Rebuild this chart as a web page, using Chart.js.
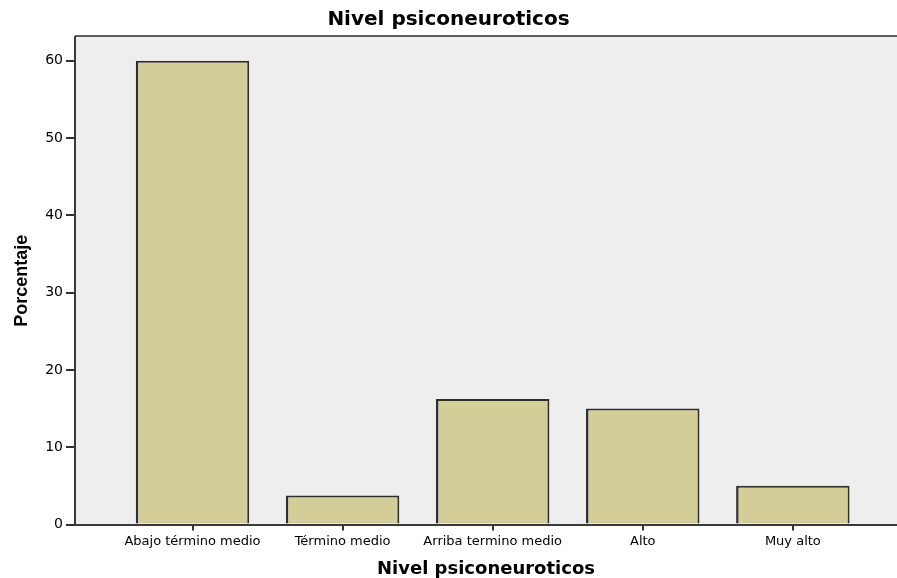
<!DOCTYPE html>
<html>
<head>
<meta charset="utf-8">
<script src="https://cdn.jsdelivr.net/npm/chart.js@4"></script>
<style>
  html, body { margin: 0; padding: 0; background: #fff; }
  #wrap { width: 897px; height: 578px; }
</style>
</head>
<body>
<div id="wrap"><canvas id="myViz"></canvas></div>
<script>
// Datos del gráfico
const categories = ['Abajo término medio', 'Término medio', 'Arriba termino medio', 'Alto', 'Muy alto'];
const percentages = [60, 3.75, 16.25, 15, 5];
const yTicks = [0, 10, 20, 30, 40, 50, 60];
const chartTitle = 'Nivel psiconeuroticos';
const xTitle = 'Nivel psiconeuroticos';
const yTitle = 'Porcentaje';

// Fondo gris del área del gráfico y línea superior
const plotBackground = {
  id: 'plotBackground',
  beforeDraw(chart) {
    const { ctx, chartArea } = chart;
    ctx.save();
    ctx.fillStyle = '#eeeeee';
    ctx.fillRect(chartArea.left, chartArea.top, chartArea.right - chartArea.left, chartArea.bottom - chartArea.top);
    ctx.strokeStyle = '#5c5c5c';
    ctx.lineWidth = 2;
    ctx.beginPath();
    ctx.moveTo(chartArea.left, chartArea.top - 1);
    ctx.lineTo(chartArea.right, chartArea.top - 1);
    ctx.stroke();
    ctx.restore();
  }
};

const ctx = document.getElementById('myViz').getContext('2d');
new Chart(ctx, {
  type: 'bar',
  data: {
    datasets: [{
      data: categories.map((c, i) => ({ x: i, y: percentages[i] })),
      backgroundColor: '#d3ce98',
      borderColor: '#2e2e2e',
      borderWidth: { top: 2, right: 2, bottom: 0, left: 2.5 },
      borderSkipped: false,
      categoryPercentage: 1,
      barPercentage: 0.756
    }]
  },
  options: {
    responsive: true,
    maintainAspectRatio: false,
    animation: false,
    layout: { padding: 0 },
    plugins: {
      legend: { display: false },
      tooltip: { enabled: false },
      title: {
        display: true,
        text: chartTitle,
        color: '#000',
        font: { family: 'DejaVu Sans', size: 20, weight: 'bold', lineHeight: 1.2 },
        padding: { top: 8, bottom: 5 }
      }
    },
    scales: {
      x: {
        type: 'linear',
        offset: false,
        min: -0.783,
        max: 4.694,
        afterBuildTicks: (scale) => {
          scale.ticks = categories.map((c, i) => ({ value: i }));
        },
        afterFit: (scale) => { scale.height = 53.5; },
        grid: { offset: false, drawOnChartArea: false, drawTicks: true, tickLength: 6, color: '#333', lineWidth: 2 },
        border: { display: true, color: '#3a3a3a', width: 2 },
        ticks: {
          autoSkip: false,
          maxRotation: 0,
          padding: 3,
          color: '#000',
          font: { family: 'DejaVu Sans', size: 13 },
          callback: (value) => categories[value] ?? ''
        },
        title: {
          display: true,
          text: xTitle,
          color: '#000',
          font: { family: 'DejaVu Sans', size: 18, weight: 'bold', lineHeight: 1 },
          padding: { top: 0, bottom: 0 }
        }
      },
      y: {
        min: 0,
        max: 63.07,
        afterBuildTicks: (scale) => {
          scale.ticks = yTicks.map(v => ({ value: v }));
        },
        afterFit: (scale) => { scale.width = 75; },
        grid: { drawOnChartArea: false, drawTicks: true, tickLength: 9, color: '#333', lineWidth: 2 },
        border: { display: true, color: '#3a3a3a', width: 2 },
        ticks: {
          padding: 3,
          color: '#000',
          font: { family: 'DejaVu Sans', size: 14 }
        },
        title: {
          display: true,
          text: yTitle,
          color: '#000',
          font: { family: 'Liberation Sans', size: 18, weight: 'bold', lineHeight: 1 },
          padding: { top: 13, bottom: 0 }
        }
      }
    }
  },
  plugins: [plotBackground]
});
</script>
</body>
</html>
